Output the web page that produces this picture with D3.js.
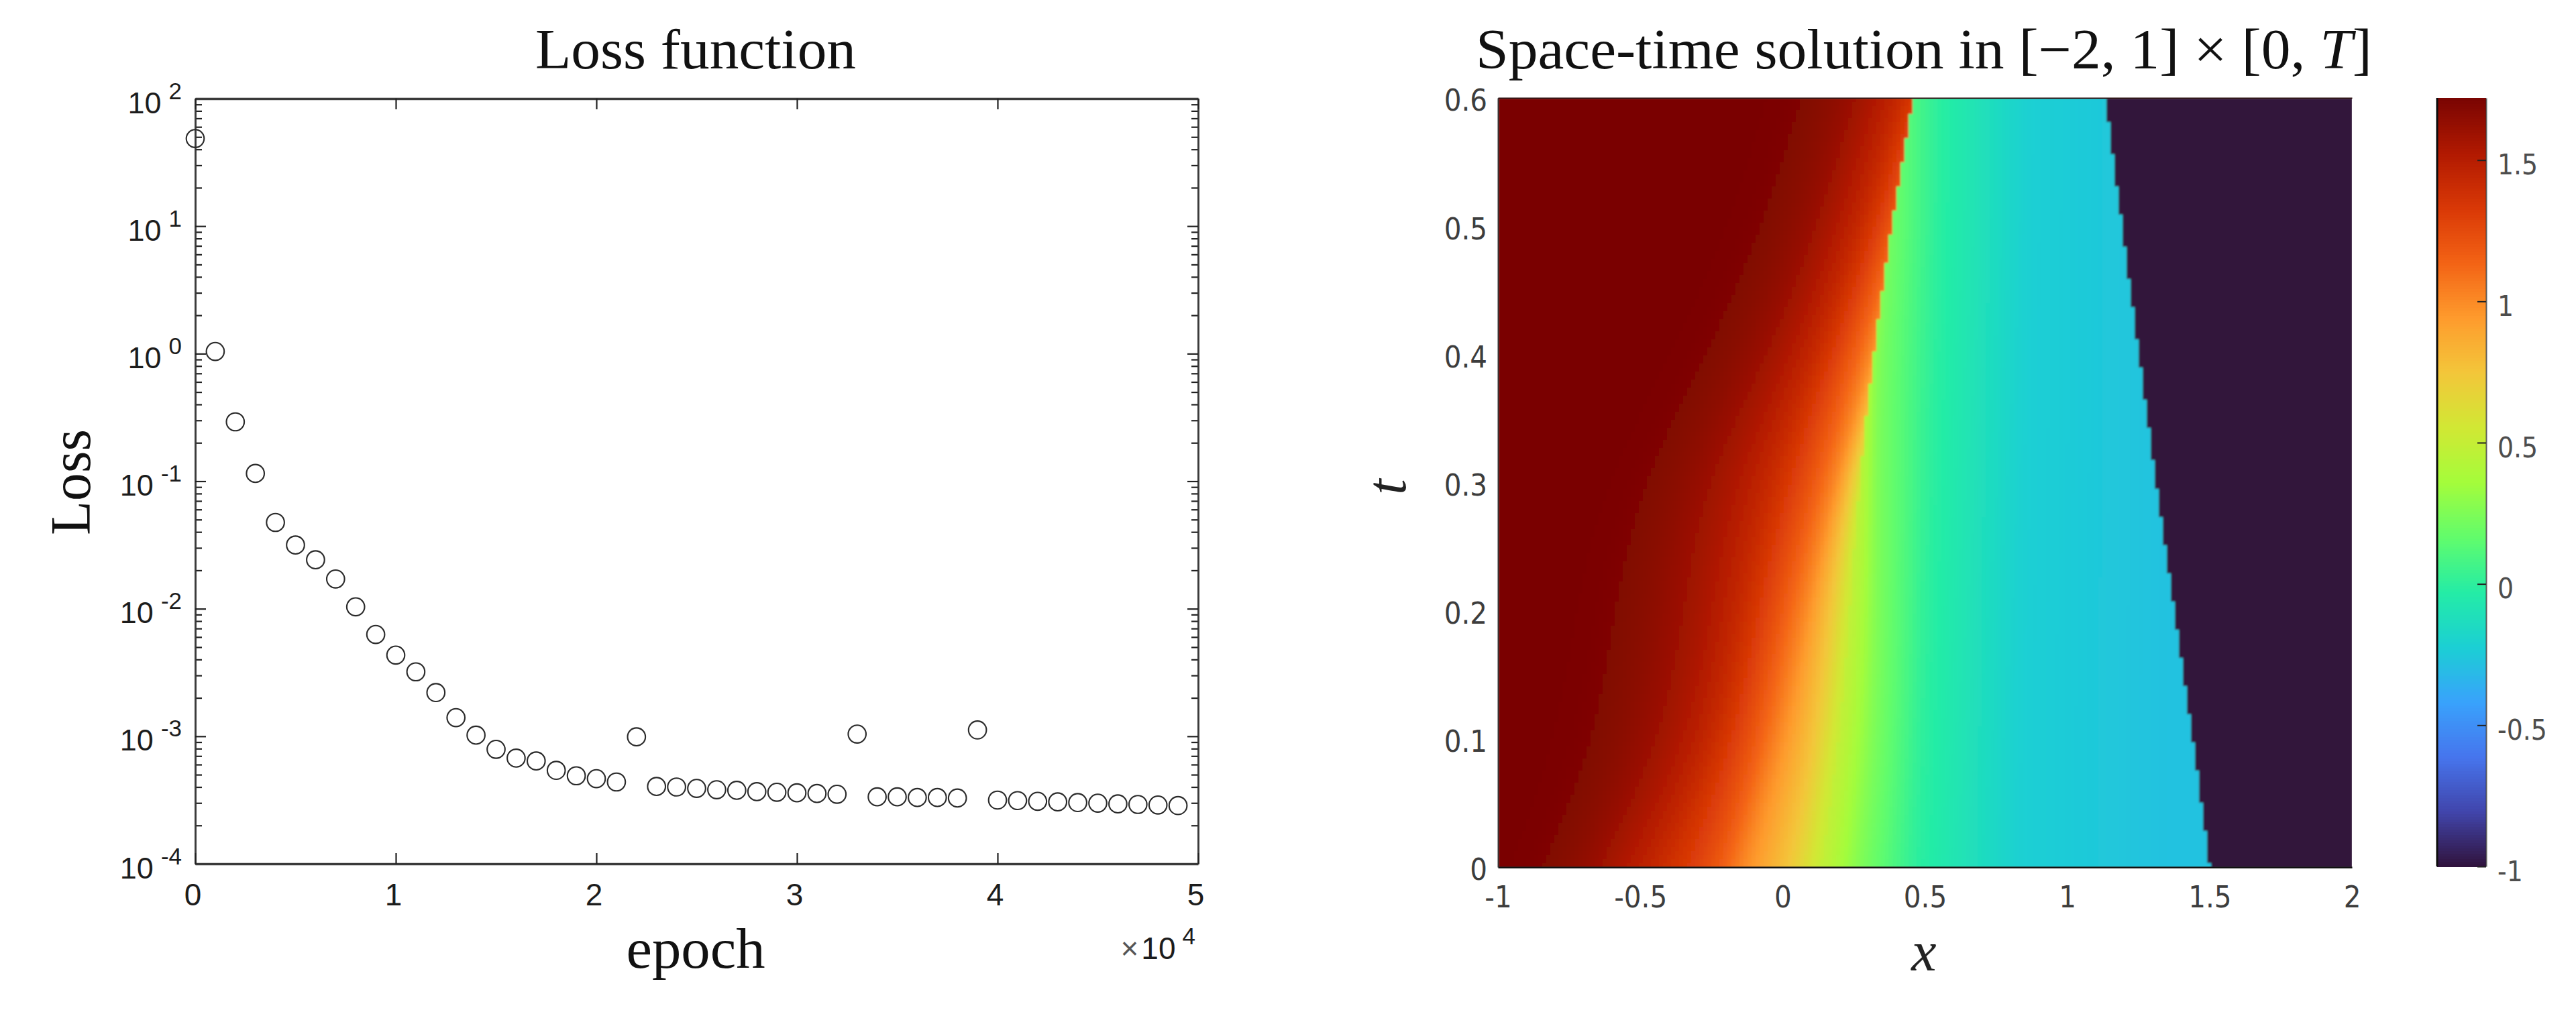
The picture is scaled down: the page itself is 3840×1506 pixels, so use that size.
<!DOCTYPE html>
<html>
<head>
<meta charset="utf-8">
<script src="https://cdn.jsdelivr.net/npm/d3@7"></script>
<style>
  html, body { margin: 0; padding: 0; background: #fff; }
  svg { display: block; }
  .sans { font-family: "Liberation Sans", sans-serif; }
  .serif { font-family: "Liberation Serif", serif; }
  .dv { font-family: "DejaVu Sans Condensed", "DejaVu Sans", sans-serif; font-stretch: condensed; }
</style>
</head>
<body>
<svg id="chart" width="3840" height="1506" viewBox="0 0 3840 1506"></svg>
<script>
// ---------- Left panel data ----------
const lossEpochs = [0,1000,2000,3000,4000,5000,6000,7000,8000,9000,10000,11000,12000,13000,14000,15000,16000,17000,18000,19000,20000,21000,22000,23000,24000,25000,26000,27000,28000,29000,30000,31000,32000,33000,34000,35000,36000,37000,38000,39000,40000,41000,42000,43000,44000,45000,46000,47000,48000,49000];
const lossValues = [48.6,1.04,0.292,0.115,0.0475,0.0316,0.0242,0.0171,0.01035,0.00628,0.00433,0.0032,0.0022,0.0014,0.00102,0.00079,0.000674,0.00064,0.00054,0.00049,0.000465,0.000438,0.00099,0.000404,0.0004,0.00039,0.000381,0.000377,0.000368,0.000364,0.00036,0.000356,0.000351,0.00104,0.000335,0.000335,0.000331,0.000331,0.000328,0.00112,0.000316,0.000313,0.000309,0.000306,0.000302,0.000299,0.000295,0.000292,0.000289,0.000286];
const epochTicks = [0,10000,20000,30000,40000,50000];
const lossExponents = [2,1,0,-1,-2,-3,-4];

// ---------- Right panel data ----------
const fieldTimes = [0,0.1,0.2,0.3,0.4,0.5,0.6];
// u levels on the left of the moving front, with the x where each level is reached, per time row
const leftLevels = [1.72,1.6,1.5,1.25,1,0.75,0.5];
const leftIsoX = [
  [-0.820,-0.639,-0.519,-0.255,-0.134,0.022,0.136],
  [-0.663,-0.411,-0.279,-0.116,-0.002,0.118,0.202],
  [-0.603,-0.339,-0.194,-0.038,0.082,0.166,0.238],
  [-0.495,-0.279,-0.122,0.082,0.184,0.232,0.268],
  [-0.255,-0.038,0.082,0.214,0.317,0.359,0.395],
  [-0.050,0.142,0.238,0.377,0.443,0.491,0.527],
  [0.082,0.275,0.371,0.515,0.563,0.611,0.659]
];
// u levels on the right of the moving front
const midLevels = [0.5,0.25,0,-0.22,-0.28];
const midIsoX = [
  [0.136,0.275,0.467,0.840,1.35],
  [0.202,0.323,0.491,0.840,1.35],
  [0.238,0.335,0.503,0.846,1.35],
  [0.268,0.329,0.515,0.852,1.35],
  [0.280,0.329,0.527,0.858,1.35],
  [0.311,0.359,0.539,0.864,1.35],
  [0.305,0.353,0.539,0.864,1.35]
];
const leftFrontX = [0.136,0.202,0.238,0.268,0.319,0.383,0.461];
const rightFrontX = [1.5,1.44,1.375,1.31,1.25,1.19,1.134];
const rightStateU = -1;
const gridColumns = 212;
const gridRows = 191;
const fieldXTicks = [-1,-0.5,0,0.5,1,1.5,2];
const fieldTTicks = [0,0.1,0.2,0.3,0.4,0.5,0.6];
const colorbarTicks = [-1,-0.5,0,0.5,1,1.5];
const turboStops = ["#30123b","#4145ab","#4675ed","#39a2fc","#1bcfd4","#24eca6","#61fc6c","#a4fc3b","#d1e834","#f3c63a","#fe9b2d","#f36315","#d93806","#b11901","#7a0402"];

// ---------- Scales ----------
const svg = d3.select("#chart");
const xEpoch = d3.scaleLinear().domain([0,50000]).range([291,1786]);
const yLoss = d3.scaleLog().domain([1e-4,1e2]).range([1288,147]);
const xField = d3.scaleLinear().domain([-1,2]).range([2233,3506]);
const tField = d3.scaleLinear().domain([0,0.6]).range([1293,146]);
const uDomain = [-1,1.72];
const uColor = d3.scaleLinear()
  .domain(turboStops.map((_,i)=>uDomain[0]+(uDomain[1]-uDomain[0])*i/(turboStops.length-1)))
  .range(turboStops).interpolate(d3.interpolateRgb);
const yBar = d3.scaleLinear().domain(uDomain).range([1292,146]);

// ---------- Left panel ----------
const gL = svg.append("g");
const inkL = "#3a3a3a";
const minorLoss = [];
lossExponents.slice(1).forEach(e => { for (let m=2;m<=9;m++) minorLoss.push(m*Math.pow(10,e)); });
const majorLoss = lossExponents.map(e=>Math.pow(10,e));

function styleAxis(g, w){
  g.selectAll("path.domain").attr("stroke",inkL).attr("stroke-width",w);
  g.selectAll(".tick line").attr("stroke","#222").attr("stroke-width",2.2);
}
[[d3.axisLeft,291],[d3.axisRight,1786]].forEach(([mk,px],k)=>{
  gL.append("g").attr("transform",`translate(${px},0)`)
    .call(mk(yLoss).tickValues(minorLoss).tickSizeInner(-10).tickSizeOuter(0).tickFormat(""))
    .call(g=>{styleAxis(g,2.6);});
  const major = gL.append("g").attr("transform",`translate(${px},0)`)
    .call(mk(yLoss).tickValues(majorLoss).tickSizeInner(-16).tickSizeOuter(0)
      .tickFormat(k===0 ? (d=>"") : ""))
    .call(g=>{styleAxis(g,2.6);});
  if(k===0){
    major.selectAll(".tick text").each(function(d){
      const e = Math.round(Math.log10(d));
      const t = d3.select(this).attr("class","sans").attr("x",-20).attr("dy",null).attr("y",21)
        .attr("text-anchor","end").attr("fill","#1c1c1c").style("font-size","45px");
      t.text(null);
      t.append("tspan").text("10");
      t.append("tspan").attr("dx",11).attr("dy",-21).style("font-size","35px").text(String(e));
    });
  }
});
gL.append("g").attr("transform","translate(0,1288)")
  .call(d3.axisBottom(xEpoch).tickValues(epochTicks).tickSizeInner(-16).tickSizeOuter(0).tickPadding(29).tickFormat(d=>String(d/10000)))
  .call(g=>{
    styleAxis(g,3.6);
    g.selectAll(".tick text").attr("class","sans").attr("dx",-4).attr("fill","#1c1c1c").style("font-size","46px");
  });
gL.append("g").attr("transform","translate(0,147)")
  .call(d3.axisTop(xEpoch).tickValues(epochTicks).tickSizeInner(-16).tickSizeOuter(0).tickFormat(""))
  .call(g=>styleAxis(g,3.4));

gL.append("g").selectAll("circle")
  .data(lossEpochs.map((e,i)=>({e,v:lossValues[i]})))
  .join("circle")
  .attr("cx",d=>xEpoch(d.e)).attr("cy",d=>yLoss(d.v)).attr("r",13.3)
  .attr("fill","none").attr("stroke","#2a2a2a").attr("stroke-width",2.1);

gL.append("text").attr("class","serif").attr("x",1037).attr("y",102)
  .attr("text-anchor","middle").attr("textLength",478).attr("lengthAdjust","spacingAndGlyphs")
  .attr("fill","#111").style("font-size","84px").text("Loss function");
gL.append("text").attr("class","serif").attr("x",1037).attr("y",1443)
  .attr("text-anchor","middle").attr("textLength",207).attr("lengthAdjust","spacingAndGlyphs")
  .attr("fill","#111").style("font-size","84px").text("epoch");
gL.append("text").attr("class","serif").attr("transform","translate(134,719) rotate(-90)")
  .attr("text-anchor","middle").attr("textLength",158).attr("lengthAdjust","spacingAndGlyphs")
  .attr("fill","#111").style("font-size","84px").text("Loss");
const mult = gL.append("text").attr("class","sans").attr("x",1782).attr("y",1430)
  .attr("text-anchor","end").attr("fill","#1c1c1c").style("font-size","46px");
mult.append("tspan").attr("fill","#555").text("×");
mult.append("tspan").attr("dx",4).text("10");
mult.append("tspan").attr("dx",10).attr("dy",-22).style("font-size","35px").text("4");

// ---------- Right panel: field cells ----------
const gR = svg.append("g");
svg.append("defs").append("filter").attr("id","soft")
  .attr("filterUnits","userSpaceOnUse")
  .attr("x",xField.range()[0]).attr("y",tField.range()[1])
  .attr("width",xField.range()[1]-xField.range()[0]).attr("height",tField.range()[0]-tField.range()[1])
  .append("feGaussianBlur").attr("stdDeviation",1.6);
const tSpan = d3.scaleLinear().domain([0,0.6]).range([0,1]);
const rowCurve = arr => { const f = d3.interpolateBasis(arr); return t => f(tSpan(t)); };
const leftScales = leftLevels.map((_,j)=>rowCurve(leftIsoX.map(r=>r[j])));
const midScales = midLevels.map((_,j)=>rowCurve(midIsoX.map(r=>r[j])));
const leftFront = rowCurve(leftFrontX);
const rightFront = rowCurve(rightFrontX);
const smoothAt = (scale, x, half) => d3.mean(d3.range(-8,9), k => scale(x + k/8*half));
const leftHalf = d3.scaleLinear().domain([1,1.7]).range([0.02,0.17]).clamp(true);
const cols = d3.scaleBand().domain(d3.range(gridColumns)).range(xField.range());
const rows = d3.scaleBand().domain(d3.range(gridRows)).range(tField.range().slice().reverse());
const cells = [];
d3.range(gridRows).forEach(r=>{
  const t = tField.invert(rows(r)+rows.bandwidth()/2);
  const leftU = d3.scaleLinear().domain(leftScales.map(s=>s(t))).range(leftLevels).clamp(true);
  const midU = d3.scaleLinear().domain(midScales.map(s=>s(t))).range(midLevels).clamp(true);
  const a = leftFront(t), b = rightFront(t);
  d3.range(gridColumns).forEach(c=>{
    const x = xField.invert(cols(c)+cols.bandwidth()/2);
    const u = x<a ? smoothAt(leftU,x,leftHalf(leftU(x))) : (x<b ? smoothAt(midU,x,0.03) : rightStateU);
    cells.push({r,c,u});
  });
});
gR.append("g").attr("filter","url(#soft)").attr("shape-rendering","crispEdges").selectAll("rect")
  .data(cells).join("rect")
  .attr("x",d=>cols(d.c)).attr("y",d=>rows(d.r))
  .attr("width",cols.bandwidth()+0.6).attr("height",rows.bandwidth()+0.6)
  .attr("fill",d=>uColor(d.u));

gR.append("g").attr("transform","translate(0,1293)")
  .call(d3.axisBottom(xField).tickValues(fieldXTicks).tickSize(0).tickPadding(28).tickFormat(d=>String(d)))
  .call(g=>{
    g.select("path.domain").attr("stroke","#101010").attr("stroke-width",2.5);
    g.selectAll("text").attr("class","dv").attr("fill","#3d3d3d").style("font-size","45px");
  });
gR.append("g").attr("transform","translate(2233,0)")
  .call(d3.axisLeft(tField).tickValues(fieldTTicks).tickSize(0).tickPadding(16).tickFormat(d=>String(d)))
  .call(g=>{
    g.select("path.domain").attr("stroke","#333").attr("stroke-width",2);
    g.selectAll("text").attr("class","dv").attr("dy","0.42em").attr("fill","#3d3d3d").style("font-size","45px");
  });
gR.append("g").attr("transform","translate(0,146)")
  .call(d3.axisTop(xField).tickValues([]).tickSize(0))
  .call(g=>g.select("path.domain").attr("stroke","#2a1010").attr("stroke-width",2));

const barSteps = d3.range(0,290).map(i=>uDomain[0]+(uDomain[1]-uDomain[0])*(i+0.5)/290);
const barH = Math.abs(yBar(uDomain[0])-yBar(uDomain[1]))/290;
gR.append("g").attr("shape-rendering","crispEdges").selectAll("rect")
  .data(barSteps).join("rect")
  .attr("x",3633).attr("width",73)
  .attr("y",d=>yBar(d)-barH/2).attr("height",barH+0.7)
  .attr("fill",d=>uColor(d));
gR.append("g").attr("transform","translate(3706,0)")
  .call(d3.axisRight(yBar).tickValues(colorbarTicks).tickSizeInner(-13).tickSizeOuter(0).tickPadding(17).tickFormat(d=>String(d)))
  .call(g=>{
    g.select("path.domain").attr("stroke","#2b2b2b").attr("stroke-opacity",0.75).attr("stroke-width",2);
    g.selectAll(".tick line").attr("stroke","#222").attr("stroke-width",2);
    g.selectAll("text").attr("class","dv").attr("dy","0.5em").attr("fill","#4d4d4d").style("font-size","42px");
  });
gR.append("line").attr("x1",3633).attr("x2",3633)
  .attr("y1",yBar.range()[1]).attr("y2",yBar.range()[0])
  .attr("stroke","#0c0c0c").attr("stroke-width",3);

const title = gR.append("text").attr("class","serif").attr("x",2868).attr("y",102)
  .attr("text-anchor","middle").attr("textLength",1336).attr("lengthAdjust","spacingAndGlyphs")
  .attr("fill","#111").style("font-size","84px");
title.append("tspan").text("Space-time solution in [−2, 1] × [0, ");
title.append("tspan").style("font-style","italic").text("T");
title.append("tspan").text("]");
gR.append("text").attr("class","serif").attr("x",2868).attr("y",1447)
  .attr("text-anchor","middle").style("font-style","italic").attr("fill","#222").style("font-size","84px").text("x");
gR.append("text").attr("class","serif").attr("transform","translate(2095,726) rotate(-90)")
  .attr("text-anchor","middle").style("font-style","italic").attr("fill","#222").style("font-size","84px").text("t");
</script>
</body>
</html>
